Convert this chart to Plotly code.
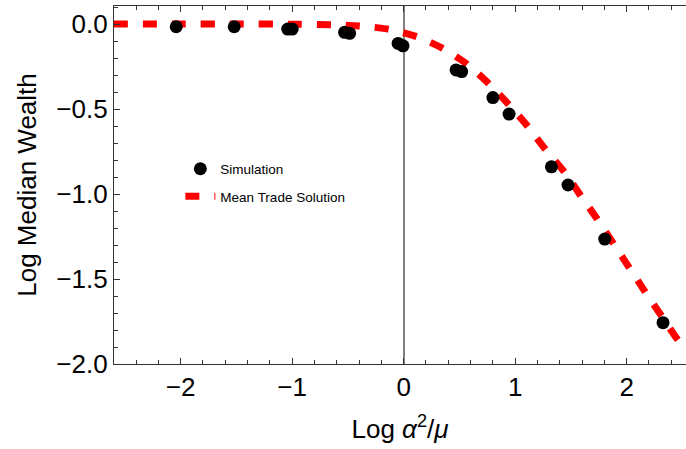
import plotly.graph_objects as go

# Simulation points (Log alpha^2/mu, Log median wealth)
sim_x = [-2.04, -1.52, -1.04, -1.00, -0.53, -0.485, -0.05, -0.006, 0.47, 0.52,
         0.80, 0.945, 1.325, 1.474, 1.803, 2.326]
sim_y = [-0.016, -0.016, -0.030, -0.030, -0.049, -0.055, -0.114, -0.128, -0.270, -0.280,
         -0.433, -0.530, -0.840, -0.947, -1.265, -1.757]

# Mean trade solution curve
curve_x = [-2.6, -2.0, -1.5, -1.0, -0.64, -0.39, -0.13, 0.12, 0.35, 0.57, 0.77, 0.945,
           1.115, 1.27, 1.45, 1.594, 1.737, 1.89, 2.027, 2.17, 2.31, 2.46, 2.54]
curve_y = [0.0, 0.0, 0.0, -0.001, -0.004, -0.012, -0.031, -0.075, -0.143, -0.237, -0.355,
           -0.476, -0.604, -0.737, -0.878, -1.016, -1.149, -1.30, -1.437, -1.58, -1.715,
           -1.859, -1.92]

x_ticks = [-2, -1, 0, 1, 2]
y_ticks = [0.0, -0.5, -1.0, -1.5, -2.0]

FONT = "Liberation Sans, Arial, sans-serif"

fig = go.Figure()
fig.add_trace(go.Scatter(
    x=curve_x, y=curve_y, mode="lines", name="Mean Trade Solution",
    line=dict(color="#ff0000", width=7, dash="14px,15px", shape="spline", smoothing=0.8),
    legendgroup="b", legendrank=2,
))
fig.add_trace(go.Scatter(
    x=sim_x, y=sim_y, mode="markers", name="Simulation",
    marker=dict(color="black", size=13),
    legendgroup="a", legendrank=1,
))

fig.update_layout(
    width=686, height=449,
    margin=dict(l=114, r=0, t=6, b=85),
    plot_bgcolor="white", paper_bgcolor="white",
    font=dict(family=FONT, color="black"),
    showlegend=True,
    legend=dict(x=0.116, y=0.588, xanchor="left", yanchor="top",
                font=dict(size=13.5, family=FONT, color="black"),
                bgcolor="rgba(0,0,0,0)", tracegroupgap=7),
    xaxis=dict(
        range=[-2.598, 2.532], tickvals=x_ticks, ticktext=["\u22122", "\u22121", "0", "1", "2"],
        ticks="inside", ticklen=6, tickwidth=1, tickcolor="#333",
        showline=True, linecolor="#333", linewidth=1.3, mirror="ticks",
        showgrid=False, zeroline=True, zerolinecolor="#808080", zerolinewidth=1.5,
        tickfont=dict(size=26),
        minor=dict(dtick=0.2, tick0=0, ticks="inside", ticklen=3.5, tickcolor="#333", showgrid=False),
        title=dict(text="Log <i>\u03b1</i><sup>2</sup>/<i>\u03bc</i>", font=dict(size=26), standoff=18),
    ),
    yaxis=dict(
        range=[-2.0, 0.106], tickvals=y_ticks,
        ticktext=["0.0", "\u22120.5", "\u22121.0", "\u22121.5", "\u22122.0"],
        ticks="inside", ticklen=6, tickwidth=1, tickcolor="#333",
        showline=True, linecolor="#333", linewidth=1.3, mirror=False,
        showgrid=False, zeroline=False,
        tickfont=dict(size=26),
        minor=dict(dtick=0.1, tick0=0, ticks="inside", ticklen=3.5, tickcolor="#333", showgrid=False),
        title=dict(text="Log Median Wealth", font=dict(size=26), standoff=12),
    ),
)

fig.write_html("out.html")
